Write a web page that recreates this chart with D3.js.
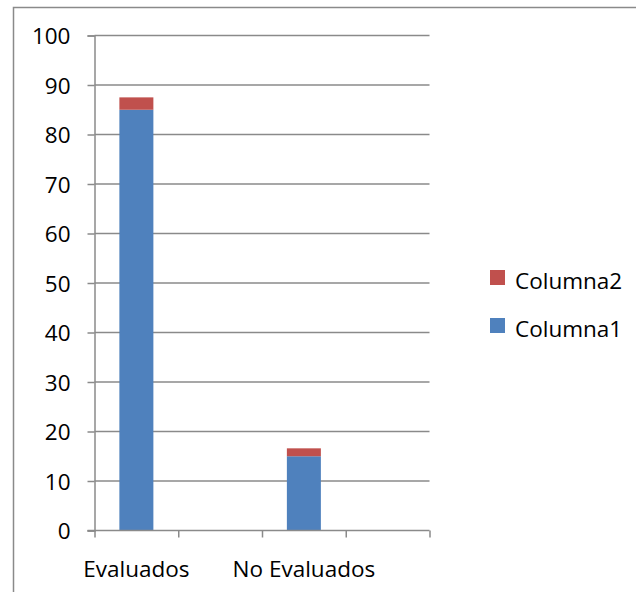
<!DOCTYPE html>
<html>
<head>
<meta charset="utf-8">
<script src="https://cdn.jsdelivr.net/npm/d3@7/dist/d3.min.js"></script>
<style>
  html, body { margin: 0; padding: 0; background: #fff; }
  svg { display: block; }
  text { font-family: "Open Sans", "Noto Sans", sans-serif; fill: #000; }
</style>
</head>
<body>
<svg id="chart" width="636" height="592"></svg>
<script>
const categories = ["Evaluados", "", "No Evaluados", ""];
const columna1 = [85, null, 15, null];
const columna2 = [2.5, null, 1.6, null];
const seriesNames = ["Columna1", "Columna2"];
const seriesColors = ["#4F81BD", "#C0504D"];
const yTicks = [0, 10, 20, 30, 40, 50, 60, 70, 80, 90, 100];

const svg = d3.select("#chart");
const gridColor = "#8a8a8a";
const fontSize = "22.5px";

// outer frame
svg.append("rect")
  .attr("x", 13.5).attr("y", 7.5)
  .attr("width", 640).attr("height", 620)
  .attr("fill", "none").attr("stroke", gridColor).attr("stroke-width", 1.5);

const plotLeft = 94.5, plotRight = 429.5, plotTop = 35.5, plotBottom = 530.5;

const y = d3.scaleLinear().domain([0, 100]).range([plotBottom, plotTop]);
const idx = d3.range(categories.length);
const x = d3.scaleBand().domain(idx).range([plotLeft, plotRight]).padding(0);
const xEdges = d3.scaleLinear().domain([0, categories.length]).range([plotLeft, plotRight]);

// gridlines
svg.append("g").selectAll("line").data(yTicks.filter(d => d > 0)).join("line")
  .attr("x1", plotLeft).attr("x2", plotRight)
  .attr("y1", d => y(d)).attr("y2", d => y(d))
  .attr("stroke", gridColor).attr("stroke-width", 1.5);

// bars
const rows = idx.map(i => ({ i, Columna1: columna1[i] || 0, Columna2: columna2[i] || 0 }));
const stack = d3.stack().keys(seriesNames)(rows);
const barFrac = 0.406;
svg.append("g").selectAll("g").data(stack).join("g")
  .attr("fill", (d, k) => seriesColors[k])
  .selectAll("rect").data(d => d.filter(p => p[1] > p[0])).join("rect")
  .attr("x", p => x(p.data.i) + x.bandwidth() * (1 - barFrac) / 2)
  .attr("width", x.bandwidth() * barFrac)
  .attr("y", p => y(p[1]))
  .attr("height", p => y(p[0]) - y(p[1]));

// y axis
const yAxis = svg.append("g").attr("transform", `translate(${plotLeft},0)`)
  .call(d3.axisLeft(y).tickValues(yTicks).tickSize(7).tickPadding(17).tickFormat(d3.format("d")));
yAxis.selectAll("path, line").attr("stroke", gridColor).attr("stroke-width", 1.5);
yAxis.selectAll("text").style("font-size", fontSize).attr("font-family", null).attr("dy", "0.36em");

// x axis line and boundary ticks
const xAxis = svg.append("g").attr("transform", `translate(0,${plotBottom})`)
  .call(d3.axisBottom(xEdges).tickValues(d3.range(categories.length + 1)).tickSize(7).tickFormat(""));
xAxis.select("path").attr("d", `M${plotLeft - 7},0H${plotRight}`);
xAxis.selectAll("path, line").attr("stroke", gridColor).attr("stroke-width", 1.5);

// x labels
const xLab = svg.append("g").attr("transform", `translate(0,${plotBottom})`)
  .call(d3.axisBottom(x).tickSize(0).tickPadding(0).tickFormat(i => categories[i]));
xLab.select("path").remove();
xLab.selectAll("text").style("font-size", fontSize).attr("font-family", null).attr("y", 46).attr("dy", 0);

// legend (Columna2 on top)
const legendItems = [1, 0];
const lg = svg.append("g").selectAll("g").data(legendItems).join("g")
  .attr("transform", (d, k) => `translate(490,${270 + k * 48})`);
lg.append("rect").attr("width", 15).attr("height", 15).attr("fill", d => seriesColors[d]);
lg.append("text").attr("x", 25).attr("y", 18.5).style("font-size", fontSize).text(d => seriesNames[d]);
</script>
</body>
</html>
